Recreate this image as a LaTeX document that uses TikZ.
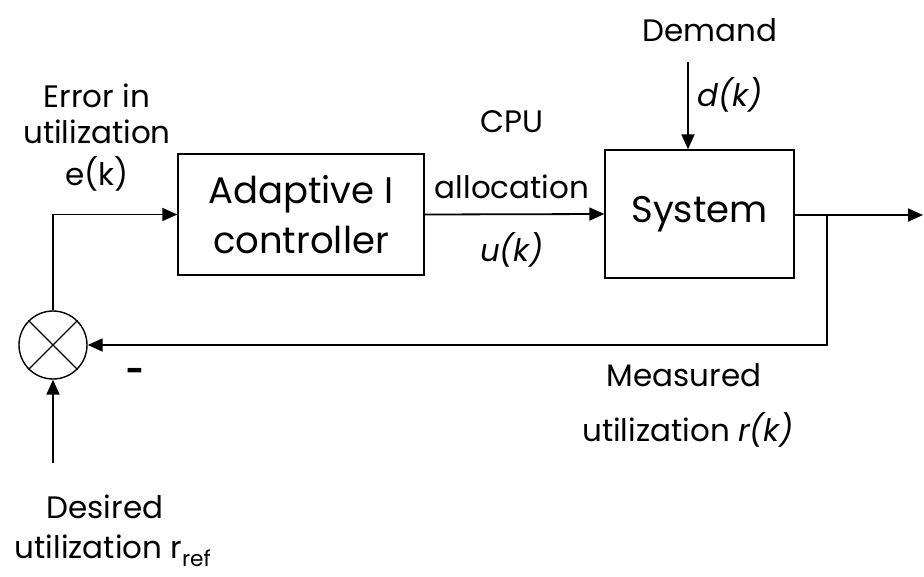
\documentclass[tikz,border=0pt]{standalone}
\usepackage{fontspec}
\setmainfont{Poppins}
\usetikzlibrary{arrows.meta}
\begin{document}
\begin{tikzpicture}[x=1pt,y=-1pt,
  line width=1.8pt,
  arr/.style={-{Triangle[length=15pt,width=13pt]}},
  blk/.style={draw,line width=1.4pt,rectangle,inner sep=0pt,font=\fontsize{37}{50}\selectfont,align=center},
  lbl/.style={font=\fontsize{31}{36}\selectfont,inner sep=0pt,align=center},
  sumnode/.style={draw,circle,line width=1.4pt,minimum size=68pt,inner sep=0pt}]
\useasboundingbox (0,0) rectangle (924,576);
\node[blk,minimum width=246pt,minimum height=121pt] (ctrl) at (301,214.5) {Adaptive I\\controller};
\node[blk,minimum width=189pt,minimum height=128pt] (sys) at (699.5,214) {System};
\node[sumnode] (sum) at (53,345) {};
\draw[line width=1.4pt] (sum.north east) -- (sum.south west) (sum.north west) -- (sum.south east);
\coordinate (out) at (923,215);
\coordinate (br) at (827,215);
\coordinate (dtop) at (688,62);
\coordinate (rbot) at (53,463);
\draw[arr] (sum.north) |- (ctrl.west);
\draw[arr] (ctrl.east) -- (sys.west);
\draw[arr] (sys.east |- out) -- (out);
\draw[arr] (br) |- (sum.east);
\draw[arr] (dtop) -- (dtop |- sys.north);
\draw[arr] (rbot) -- (sum.south);
\node[lbl] (err1) at (97,96) {Error in};
\node[lbl] (err2) at (97,132) {utilization};
\node[lbl] (err3) at (97,174) {e(k)};
\node[lbl] (cpu) at (512,122) {CPU};
\node[lbl] (alloc) at (512,187) {allocation};
\node[lbl] (uk) at (512,250) {\itshape u(k)};
\node[lbl] (dem) at (710,30) {Demand};
\node[lbl] (dk) at (730,95) {\itshape d(k)};
\node[lbl] (meas) at (684,375) {Measured};
\node[lbl] (mutil) at (688,430) {utilization \itshape r(k)};
\node[lbl] (minus) at (135,375) {\textbf{-}};
\node[lbl] (des1) at (105,507) {Desired};
\node[lbl] (des2) at (113,551) {utilization r\textsubscript{ref}};
\end{tikzpicture}
\end{document}
